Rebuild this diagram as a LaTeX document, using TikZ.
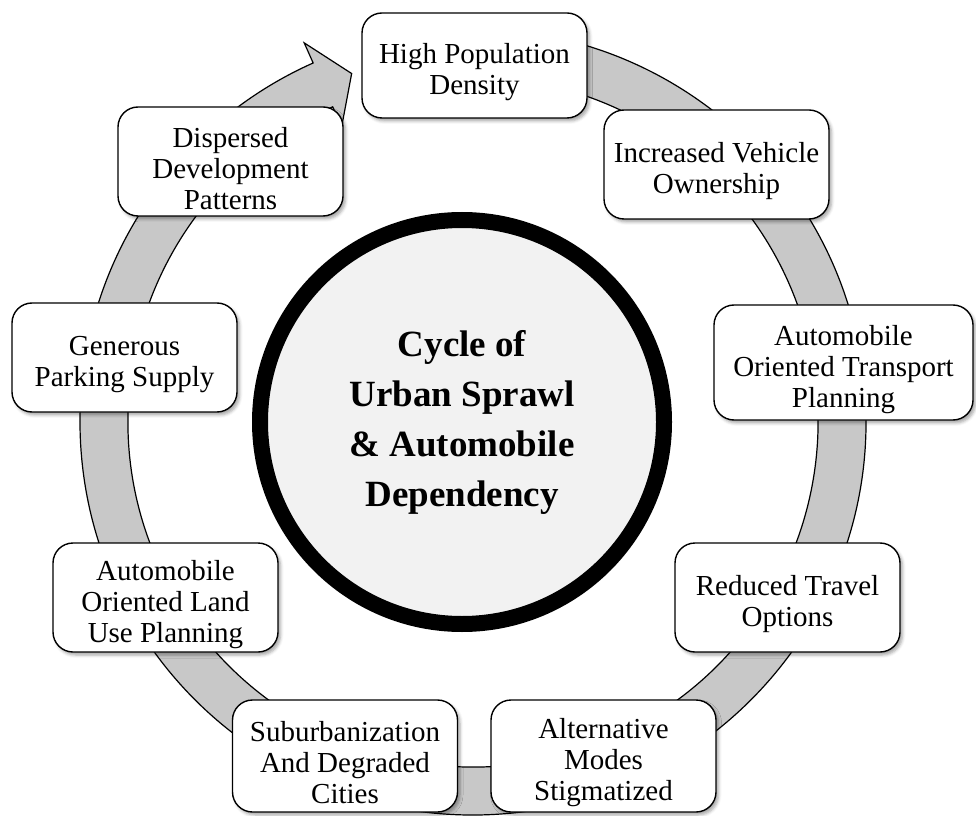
\documentclass[tikz,border=0pt]{standalone}
\usepackage{fontspec}
\setmainfont{Liberation Serif}
\usetikzlibrary{shadows.blur}
\definecolor{bandgray}{RGB}{200,200,200}
\definecolor{hubfill}{RGB}{242,242,242}
\newcommand{\tstrut}{\rule{0pt}{34pt}}
\begin{document}
\begin{tikzpicture}[x=1pt,y=1pt,
  stagebox/.style={draw=black, line width=1.4pt, fill=white, rounded corners=20pt,
    minimum width=225pt, minimum height=109pt, align=center, inner sep=2pt,
    font=\fontsize{29}{31}\selectfont,
    blur shadow={shadow xshift=2.5pt, shadow yshift=-3pt, shadow blur radius=3pt, shadow opacity=35}},
  hub/.style={circle, draw=black, line width=16pt, fill=hubfill, minimum size=404pt,
    align=center, font=\fontsize{37}{50}\selectfont\bfseries},
  band/.style={fill=bandgray, draw=black, line width=1.2pt}]
\useasboundingbox (0,0) rectangle (976,815);
\coordinate (ringc) at (473,393);
\begin{scope}[shift={(ringc)}]
\draw[band] (95:393) arc[start angle=95, end angle=-246, radius=393pt]
  -- (-246:415) -- (-250.8:369) -- (-246:323) -- (-246:345)
  arc[start angle=-246, end angle=95, radius=345pt] -- cycle;
\end{scope}
\node[hub] (hub) at (462,393) {Cycle of\\Urban Sprawl\\\& Automobile\\Dependency};
\node[stagebox, minimum height=105pt] (hpd) at (474.5,749.5) {\tstrut High Population\\Density};
\node[stagebox] (ivo) at (716.5,650.5) {\tstrut Increased Vehicle\\Ownership};
\node[stagebox, minimum width=259pt, minimum height=115pt] (aotp) at (843.5,452.5) {\tstrut Automobile\\Oriented Transport\\Planning};
\node[stagebox] (rto) at (787.5,217.5) {\tstrut Reduced Travel\\Options};
\node[stagebox, minimum height=112pt] (ams) at (603.5,59) {\tstrut Alternative\\Modes\\Stigmatized};
\node[stagebox, minimum height=112pt] (sadc) at (345,59) {\tstrut Suburbanization\\And Degraded\\Cities};
\node[stagebox] (aolup) at (165.5,217.5) {\tstrut Automobile\\Oriented Land\\Use Planning};
\node[stagebox] (gps) at (124.5,457.5) {\tstrut Generous\\Parking Supply};
\node[stagebox] (ddp) at (230.5,653.5) {\tstrut Dispersed\\Development\\Patterns};
\end{tikzpicture}
\end{document}
